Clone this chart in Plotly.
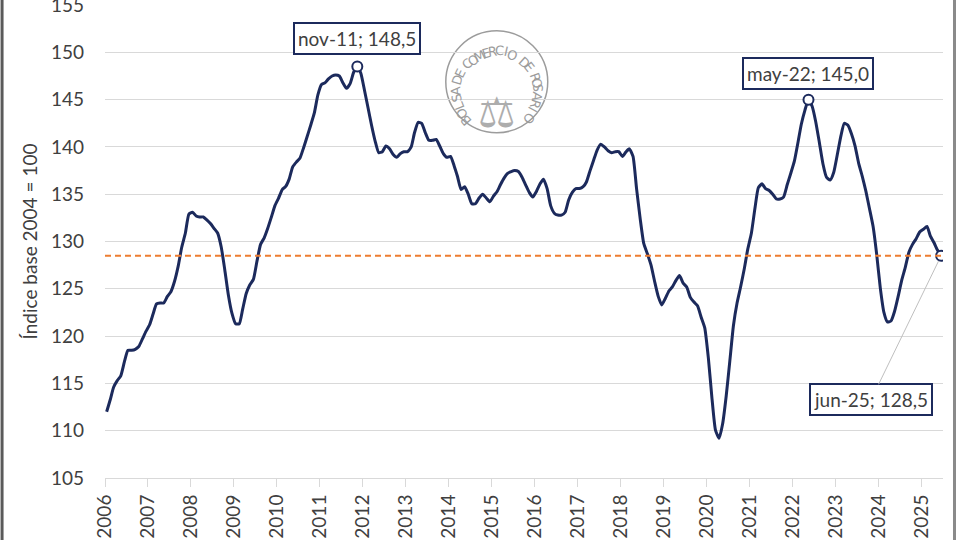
import math
import pandas as pd
import plotly.graph_objects as go

# monthly index, base 2004 = 100 (jan-2006 .. jun-2025)
v2006 = [112.0, 113.3, 114.6, 115.3, 115.8, 117.3, 118.5, 118.5, 118.6, 118.9, 119.7, 120.5]
v2007 = [121.2, 122.4, 123.4, 123.5, 123.5, 124.2, 124.7, 125.8, 127.4, 129.4, 130.9, 132.9]
v2008 = [133.1, 132.7, 132.6, 132.6, 132.3, 131.9, 131.4, 130.9, 129.4, 127.0, 124.3, 122.4]
v2009 = [121.3, 121.3, 122.8, 124.5, 125.4, 126.0, 127.9, 129.7, 130.4, 131.4, 132.6, 133.8]
v2010 = [134.6, 135.5, 135.8, 136.6, 137.9, 138.4, 138.8, 139.9, 141.1, 142.3, 143.6, 145.5]
v2011 = [146.6, 146.8, 147.2, 147.5, 147.6, 147.5, 146.8, 146.2, 146.7, 147.9, 148.5, 147.8]
v2012 = [146.0, 144.1, 142.3, 140.6, 139.4, 139.5, 140.1, 139.8, 139.2, 138.9, 139.3, 139.5]
v2013 = [139.5, 140.0, 141.5, 142.6, 142.5, 141.5, 140.7, 140.7, 140.8, 140.1, 139.3, 138.9]
v2014 = [139.0, 138.0, 136.9, 135.5, 135.8, 135.0, 134.0, 134.0, 134.6, 135.0, 134.6, 134.2]
v2015 = [134.8, 135.3, 136.0, 136.7, 137.2, 137.4, 137.5, 137.4, 136.8, 136.0, 135.2, 134.7]
v2016 = [135.3, 136.1, 136.6, 135.6, 133.8, 133.0, 132.8, 132.8, 133.1, 134.4, 135.2, 135.6]
v2017 = [135.6, 135.8, 136.3, 137.5, 138.6, 139.7, 140.3, 140.0, 139.6, 139.4, 139.5, 139.5]
v2018 = [139.0, 139.5, 139.8, 139.0, 135.6, 132.4, 129.8, 128.7, 127.5, 125.8, 124.2, 123.3]
v2019 = [124.0, 124.8, 125.2, 125.9, 126.4, 125.6, 125.2, 124.1, 123.6, 123.2, 122.0, 120.9]
v2020 = [117.7, 113.4, 110.1, 109.2, 110.7, 113.7, 117.3, 121.1, 123.5, 125.2, 127.1, 129.2]
v2021 = [130.9, 133.6, 135.7, 136.1, 135.6, 135.4, 135.0, 134.5, 134.5, 134.7, 136.0, 137.2]
v2022 = [138.5, 140.5, 142.4, 143.9, 145.0, 144.3, 142.7, 140.5, 138.2, 136.8, 136.5, 137.3]
v2023 = [139.2, 141.2, 142.5, 142.3, 141.4, 140.1, 138.3, 136.9, 135.3, 133.5, 131.6, 128.7]
v2024 = [125.1, 122.5, 121.5, 121.6, 122.6, 124.2, 125.9, 127.3, 128.9, 129.7, 130.3, 131.0]
v2025 = [131.3, 131.6, 130.6, 129.9, 129.1, 128.5]

values = (v2006 + v2007 + v2008 + v2009 + v2010 + v2011 + v2012 + v2013 + v2014 + v2015
          + v2016 + v2017 + v2018 + v2019 + v2020 + v2021 + v2022 + v2023 + v2024 + v2025)
months = pd.date_range("2006-01-01", periods=len(values), freq="MS") + pd.Timedelta(days=14)

years = list(range(2006, 2026))
ref_level = 128.5

hl_months = ["2011-11-15", "2022-05-15", "2025-06-15"]
hl_values = [148.5, 145.0, 128.5]
hl_labels = ["nov-11; 148,5", "may-22; 145,0", "jun-25; 128,5"]

NAVY = "#1c2a5c"
GRID = "#d9d9d9"
TXT = "#404040"
FONT = "Lato"

fig = go.Figure()
fig.add_trace(go.Scatter(
    x=months, y=values, mode="lines",
    line=dict(color=NAVY, width=3, shape="spline", smoothing=0.5),
    hoverinfo="skip", showlegend=False))
fig.add_trace(go.Scatter(
    x=hl_months, y=hl_values, mode="markers",
    marker=dict(size=10, color="white", line=dict(color=NAVY, width=2)),
    hoverinfo="skip", showlegend=False))

fig.add_hline(y=ref_level, line=dict(color="#ED7D31", width=2, dash="6px,4px"), layer="above")

box = dict(font=dict(family=FONT, size=19, color=TXT), bgcolor="white",
           bordercolor=NAVY, borderwidth=2, borderpad=3)
fig.add_annotation(x=hl_months[0], y=hl_values[0], text=hl_labels[0], showarrow=False, yshift=28, **box)
fig.add_annotation(x=hl_months[1], y=hl_values[1], text=hl_labels[1], showarrow=False, yshift=26, **box)
fig.add_annotation(x=hl_months[2], y=hl_values[2], text=hl_labels[2], showarrow=True,
                   ax=-70, ay=144, arrowhead=0, arrowwidth=1, arrowcolor="#bfbfbf",
                   standoff=6, **box)

# plot area in pixels, used to place the seal and frame
L, R, T, B = 105, 16.5, 4.7, 62
PW, PH = 960 - L - R, 540 - T - B


def px(x):
    return (x - L) / PW


def py(y):
    return (540 - B - y) / PH


# seal watermark
SEAL = "#9c9c9c"
cx, cy = 497, 81.5
r = 51
fig.add_shape(type="circle", xref="paper", yref="paper",
              x0=px(cx - r), x1=px(cx + r), y0=py(cy + r), y1=py(cy - r),
              line=dict(color=SEAL, width=1.5), layer="below")
seal_text = "BOLSA DE COMERCIO DE ROSARIO"
n = len(seal_text)
for i, ch in enumerate(seal_text):
    if ch == " ":
        continue
    th = -131 + 259 * i / (n - 1)
    rad = math.radians(th)
    fig.add_annotation(xref="paper", yref="paper",
                       x=px(cx + 41 * math.sin(rad)), y=py(cy - 41 * math.cos(rad)),
                       text=ch, textangle=th, showarrow=False,
                       font=dict(family="DejaVu Sans", size=13, color=SEAL))
fig.add_annotation(xref="paper", yref="paper", x=px(cx), y=py(cy + 4), text="⚖",
                   showarrow=False, font=dict(family="DejaVu Sans", size=42, color="#adadad"))

# thin frame on both sides of the picture
for xx, col in ((2, "#5a5a5a"), (955, "#8a8a8a")):
    fig.add_shape(type="line", xref="paper", yref="paper", x0=px(xx), x1=px(xx),
                  y0=-0.2, y1=1.1, line=dict(color=col, width=3))

fig.update_layout(
    width=960, height=540,
    margin=dict(l=L, r=R, t=T, b=B),
    paper_bgcolor="white", plot_bgcolor="white",
    font=dict(family=FONT, color=TXT),
    xaxis=dict(
        type="date", range=["2006-01-01", "2025-07-01"], automargin=False,
        tickvals=[f"{y}-01-01" for y in years], ticktext=[str(y) for y in years],
        tickangle=-90, tickfont=dict(size=19, color=TXT), ticklabeloverflow="allow",
        showgrid=False, showline=True, linecolor=GRID, linewidth=1,
        ticks="outside", ticklen=8, tickcolor=GRID, zeroline=False),
    yaxis=dict(
        range=[105, 155.01], tickvals=list(range(105, 156, 5)), automargin=False,
        tickfont=dict(size=19, color=TXT), ticklabeloverflow="allow",
        gridcolor=GRID, gridwidth=1, zeroline=False, showline=False,
        ticklabelstandoff=20,
        title=dict(text="Índice base 2004 = 100", font=dict(size=19, color=TXT), standoff=8)),
)

fig.write_html("out.html", config={"displayModeBar": False},
               post_script="document.body.style.margin='0';")
